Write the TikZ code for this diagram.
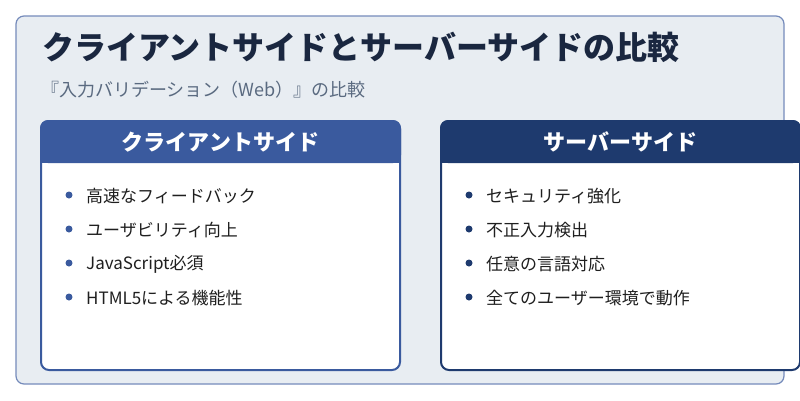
\documentclass[tikz,border=0pt]{standalone}
\usepackage{fontspec}
\setmainfont{Noto Sans CJK JP}
\begin{document}
\begin{tikzpicture}[x=1pt,y=-1pt,
  card/.style={draw=#1,line width=2pt,fill=white,rounded corners=8pt},
  hdr/.style={font=\fontsize{22}{26}\selectfont\bfseries,text=white},
  item/.style={anchor=west,font=\fontsize{17}{20}\selectfont,text=black!88,inner xsep=0pt},
  dot/.style={circle,fill=#1,inner sep=0pt,minimum size=7pt}]
\definecolor{lc}{HTML}{3A5A9E}\definecolor{rc}{HTML}{1E3A6E}
\definecolor{bg}{HTML}{E8EDF2}\definecolor{ttl}{HTML}{1A2740}
\definecolor{subc}{HTML}{5A6A80}
\useasboundingbox (0,0) rectangle (800,400);
\fill[white] (0,0) rectangle (800,400);
\draw[fill=bg,draw=lc!70,line width=1.2pt,rounded corners=8pt] (16,16) rectangle (784,384);
\node[anchor=west,inner xsep=0pt,font=\fontsize{32}{36}\selectfont\bfseries,text=ttl] (title) at (42,47) {クライアントサイドとサーバーサイドの比較};
\node[anchor=west,inner xsep=0pt,font=\fontsize{18}{21}\selectfont,text=subc] (sub) at (41,90) {『入力バリデーション（Web）』の比較};
% left
\draw[card=lc] (41,121) rectangle (400,370);
\fill[lc,rounded corners=8pt] (40,120) rectangle (401,163);
\fill[lc] (40,150) rectangle (401,163);
\node[hdr] (lh) at (220.5,142) {クライアントサイド};
\foreach \t [count=\i] in {高速なフィードバック,ユーザビリティ向上,JavaScript必須,HTML5による機能性}{
  \node[dot=lc] (ld\i) at (69,195+34*\i-34) {};
  \node[item] (li\i) at (86,196+34*\i-34) {\t};}
% right
\draw[card=rc] (441,121) rectangle (800,370);
\fill[rc,rounded corners=8pt] (440,120) rectangle (801,163);
\fill[rc] (440,150) rectangle (801,163);
\node[hdr] (rh) at (620.5,142) {サーバーサイド};
\foreach \t [count=\i] in {セキュリティ強化,不正入力検出,任意の言語対応,全てのユーザー環境で動作}{
  \node[dot=rc] (rd\i) at (469,195+34*\i-34) {};
  \node[item] (ri\i) at (486,196+34*\i-34) {\t};}
\end{tikzpicture}
\end{document}
